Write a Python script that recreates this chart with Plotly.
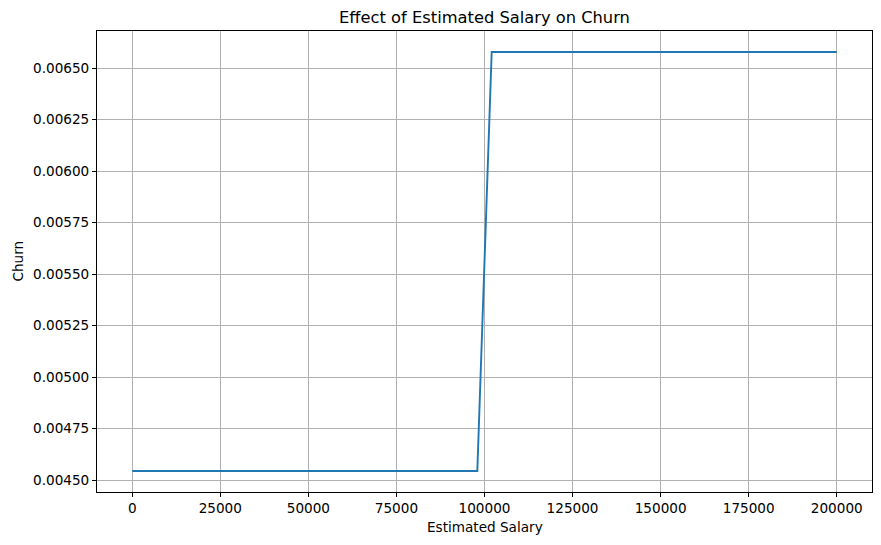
import plotly.graph_objects as go

# Data
salary = [0, 97959, 102041, 200000]
churn = [0.0045436, 0.0045436, 0.006578, 0.006578]

x_ticks = [0, 25000, 50000, 75000, 100000, 125000, 150000, 175000, 200000]
y_ticks = [0.00450, 0.00475, 0.00500, 0.00525, 0.00550, 0.00575, 0.00600, 0.00625, 0.00650]

FONT = "DejaVu Sans"
W, H = 881, 545
L, R, T, B = 97, 9, 31, 53

fig = go.Figure()
fig.add_trace(go.Scatter(
    x=salary, y=churn, mode="lines",
    line=dict(color="#1f77b4", width=1.9),
    showlegend=False,
))

axis_common = dict(
    showgrid=True, gridcolor="#b0b0b0", gridwidth=1,
    showline=True, linecolor="black", linewidth=1, mirror=True,
    ticks="outside", ticklen=4, tickwidth=1, tickcolor="black",
    zeroline=False, automargin=False,
    tickfont=dict(family=FONT, size=13.6, color="black"),
)

fig.update_layout(
    width=W, height=H,
    margin=dict(l=L, r=R, t=T, b=B, autoexpand=False),
    paper_bgcolor="white", plot_bgcolor="white",
    font=dict(family=FONT, color="black"),
    title=dict(
        text="Effect of Estimated Salary on Churn",
        x=(L + (W - R)) / 2 / W, xref="container", xanchor="center",
        y=1 - 17 / H, yref="container", yanchor="middle",
        font=dict(family=FONT, size=16.3, color="black"),
    ),
    xaxis=dict(
        **axis_common,
        range=[-10000, 210000],
        tickvals=x_ticks,
        ticktext=[str(v) for v in x_ticks],
    ),
    yaxis=dict(
        **axis_common,
        range=[0.0044418, 0.0066797],
        tickvals=y_ticks,
        ticktext=[f"{v:.5f}" for v in y_ticks],
    ),
    annotations=[
        dict(text="Estimated Salary", xref="paper", yref="paper",
             x=0.5, y=-(527 - (H - B)) / (H - T - B), xanchor="center", yanchor="middle",
             showarrow=False, font=dict(family=FONT, size=13.6, color="black")),
        dict(text="Churn", xref="paper", yref="paper",
             x=-(L - 17) / (W - L - R), y=0.5, xanchor="center", yanchor="middle",
             textangle=-90, showarrow=False, font=dict(family=FONT, size=13.6, color="black")),
    ],
)

fig.write_html(
    "out.html",
    config={"displayModeBar": False},
    post_script="document.body.style.margin='0';document.body.style.padding='0';",
)
